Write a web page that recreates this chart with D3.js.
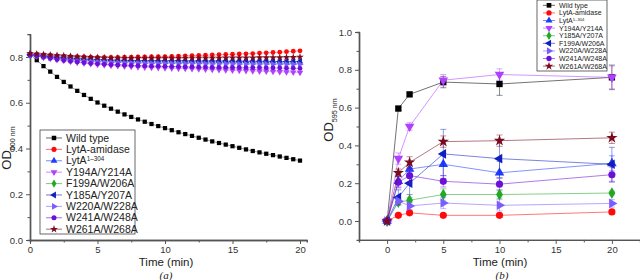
<!DOCTYPE html>
<html>
<head>
<meta charset="utf-8">
<script src="https://cdn.jsdelivr.net/npm/d3@7"></script>
<style>
  body { margin: 0; background: #fff; }
  svg text { font-family: "Liberation Sans", Arial, sans-serif; }
</style>
</head>
<body>
<svg id="chart" width="640" height="280"></svg>
<script>
// ---- panel (a): lysis curves, one point every 0.5 min
const timeA = [0,0.5,1,1.5,2,2.5,3,3.5,4,4.5,5,5.5,6,6.5,7,7.5,8,8.5,9,9.5,10,
  10.5,11,11.5,12,12.5,13,13.5,14,14.5,15,15.5,16,16.5,17,17.5,18,18.5,19,19.5,20];

const wildA = [0.812,0.786,0.760,0.736,0.713,0.691,0.671,0.652,0.634,0.617,0.601,0.587,0.574,0.561,0.549,0.538,0.527,0.517,0.507,0.498,0.489,
  0.480,0.471,0.463,0.455,0.447,0.439,0.431,0.424,0.417,0.410,0.403,0.396,0.389,0.383,0.377,0.371,0.365,0.359,0.353,0.347];
const amidaseA = [0.812,0.811,0.809,0.807,0.805,0.803,0.802,0.801,0.800,0.799,0.798,0.798,0.798,0.798,0.799,0.799,0.800,0.800,0.801,0.801,0.802,
  0.803,0.804,0.805,0.806,0.807,0.808,0.809,0.810,0.811,0.812,0.813,0.814,0.815,0.817,0.818,0.820,0.821,0.823,0.825,0.827];
const lyta304A = [0.812,0.810,0.807,0.804,0.801,0.799,0.797,0.795,0.793,0.791,0.790,0.789,0.788,0.787,0.786,0.786,0.785,0.785,0.785,0.784,0.784,
  0.784,0.784,0.783,0.783,0.783,0.783,0.783,0.782,0.782,0.782,0.782,0.782,0.781,0.781,0.781,0.781,0.780,0.780,0.780,0.780];
const y194A = [0.808,0.803,0.798,0.793,0.788,0.784,0.780,0.776,0.773,0.770,0.767,0.765,0.763,0.761,0.759,0.758,0.756,0.755,0.754,0.753,0.752,
  0.751,0.750,0.749,0.748,0.747,0.746,0.745,0.744,0.743,0.742,0.741,0.740,0.739,0.738,0.737,0.736,0.735,0.734,0.733,0.732];
const f199A = [0.810,0.807,0.803,0.799,0.796,0.793,0.790,0.788,0.786,0.784,0.783,0.782,0.781,0.780,0.779,0.779,0.778,0.778,0.777,0.777,0.777,
  0.776,0.776,0.776,0.776,0.775,0.775,0.775,0.775,0.775,0.775,0.774,0.774,0.774,0.774,0.774,0.774,0.773,0.773,0.773,0.773];
const y185A = [0.810,0.808,0.805,0.802,0.799,0.797,0.795,0.793,0.791,0.790,0.789,0.788,0.787,0.786,0.785,0.785,0.784,0.784,0.784,0.783,0.783,
  0.783,0.783,0.783,0.782,0.782,0.782,0.782,0.782,0.782,0.781,0.781,0.781,0.781,0.781,0.781,0.780,0.780,0.780,0.780,0.780];
const w220A = [0.808,0.805,0.801,0.797,0.793,0.790,0.787,0.785,0.783,0.781,0.779,0.778,0.777,0.776,0.775,0.774,0.774,0.773,0.773,0.772,0.772,
  0.772,0.771,0.771,0.771,0.771,0.770,0.770,0.770,0.770,0.770,0.769,0.769,0.769,0.769,0.769,0.768,0.768,0.768,0.768,0.768];
const w241A = [0.808,0.804,0.799,0.794,0.789,0.785,0.781,0.778,0.775,0.772,0.770,0.768,0.766,0.765,0.764,0.763,0.762,0.761,0.760,0.760,0.759,
  0.758,0.758,0.757,0.757,0.756,0.756,0.755,0.755,0.755,0.754,0.754,0.753,0.753,0.753,0.752,0.752,0.752,0.751,0.751,0.750];
const w261A = [0.815,0.813,0.811,0.809,0.807,0.805,0.803,0.801,0.800,0.799,0.798,0.797,0.796,0.796,0.795,0.795,0.795,0.795,0.795,0.795,0.795,
  0.795,0.795,0.795,0.796,0.796,0.796,0.796,0.796,0.797,0.797,0.797,0.797,0.797,0.798,0.798,0.798,0.798,0.799,0.799,0.800];

// ---- panel (b): OD595 with error bars
const timeB = [0, 1, 2, 5, 10, 20];
const wildB    = [0, 0.595, 0.670, 0.735, 0.725, 0.760];
const wildErr  = [0, 0.010, 0.010, 0.030, 0.060, 0.065];
const amidB    = [0, 0.030, 0.043, 0.030, 0.030, 0.048];
const amidErr  = [0, 0.008, 0.008, 0.008, 0.010, 0.010];
const lytaB    = [0, 0.210, 0.275, 0.300, 0.255, 0.305];
const lytaErr  = [0, 0.030, 0.040, 0.060, 0.060, 0.040];
const y194B    = [0, 0.330, 0.500, 0.745, 0.775, 0.760];
const y194Err  = [0, 0.030, 0.020, 0.030, 0.030, 0.060];
const y185B    = [0, 0.100, 0.110, 0.140, 0.140, 0.148];
const y185Err  = [0, 0.015, 0.015, 0.030, 0.020, 0.010];
const f199B    = [0, 0.125, 0.200, 0.355, 0.330, 0.300];
const f199Err  = [0, 0.040, 0.060, 0.130, 0.100, 0.090];
const w220B    = [0, 0.105, 0.080, 0.095, 0.083, 0.093];
const w220Err  = [0, 0.010, 0.020, 0.030, 0.030, 0.020];
const w241B    = [0, 0.205, 0.240, 0.210, 0.195, 0.245];
const w241Err  = [0, 0.030, 0.040, 0.030, 0.030, 0.040];
const w261B    = [0, 0.255, 0.310, 0.420, 0.425, 0.440];
const w261Err  = [0, 0.020, 0.030, 0.030, 0.030, 0.030];

const ticksAY = [0, 0.2, 0.4, 0.6, 0.8];
const ticksAX = [0, 5, 10, 15, 20];
const ticksBY = [0, 0.2, 0.4, 0.6, 0.8, 1.0];
const ticksBX = [0, 5, 10, 15, 20];

// marker style per series key
const styles = {
  wild:  { color: "#000000", sym: d3.symbolSquare,   rot: 0 },
  amid:  { color: "#ff0a0a", sym: d3.symbolCircle,   rot: 0 },
  lyta:  { color: "#1f3cff", sym: d3.symbolTriangle, rot: 0 },
  y194:  { color: "#b040ff", sym: d3.symbolTriangle, rot: 180 },
  green: { color: "#22a822", sym: d3.symbolDiamond,  rot: 0 },
  navy:  { color: "#1020c0", sym: d3.symbolTriangle, rot: -90 },
  w220:  { color: "#7a5cff", sym: d3.symbolTriangle, rot: 90 },
  w241:  { color: "#6a10d8", sym: d3.symbolCircle,   rot: 0 },
  w261:  { color: "#7a0a1e", sym: d3.symbolStar,     rot: 0 }
};

const seriesA = [
  { key: "wild",  label: "Wild type",    values: wildA },
  { key: "amid",  label: "LytA-amidase", values: amidaseA },
  { key: "lyta",  label: "LytA", sup: "1\u2013304", values: lyta304A },
  { key: "y194",  label: "Y194A/Y214A",  values: y194A },
  { key: "green", label: "F199A/W206A",  values: f199A },
  { key: "navy",  label: "Y185A/Y207A",  values: y185A },
  { key: "w220",  label: "W220A/W228A",  values: w220A },
  { key: "w241",  label: "W241A/W248A",  values: w241A },
  { key: "w261",  label: "W261A/W268A",  values: w261A }
];

const seriesB = [
  { key: "wild",  label: "Wild type",    values: wildB, err: wildErr },
  { key: "amid",  label: "LytA-amidase", values: amidB, err: amidErr },
  { key: "lyta",  label: "LytA", sup: "1\u2013304", values: lytaB, err: lytaErr },
  { key: "y194",  label: "Y194A/Y214A",  values: y194B, err: y194Err },
  { key: "green", label: "Y185A/Y207A",  values: y185B, err: y185Err },
  { key: "navy",  label: "F199A/W206A",  values: f199B, err: f199Err },
  { key: "w220",  label: "W220A/W228A",  values: w220B, err: w220Err },
  { key: "w241",  label: "W241A/W248A",  values: w241B, err: w241Err },
  { key: "w261",  label: "W261A/W268A",  values: w261B, err: w261Err }
];

const svg = d3.select("#chart");
const axisColor = "#555";
const textColor = "#333";

function marker(g, key, x, y, size) {
  const s = styles[key];
  g.append("path")
    .attr("d", d3.symbol().type(s.sym).size(size))
    .attr("transform", `translate(${x},${y}) rotate(${s.rot})`)
    .attr("fill", s.color);
}

function styleAxis(g, fs) {
  g.select(".domain").attr("stroke", axisColor).attr("stroke-width", 1.4);
  g.selectAll(".tick line").attr("stroke", axisColor).attr("stroke-width", 1);
  g.selectAll(".tick text").attr("fill", textColor).style("font-size", fs + "px");
}

function drawAxes(x, y, xt, yt, fs) {
  const [x0] = x.range();
  const [y0] = y.range();
  // minor ticks
  const xMin = d3.axisBottom(x).tickValues(xt.map(v => v + 2.5).filter(v => v < x.domain()[1]))
    .tickSize(2.5).tickFormat("");
  const yMin = d3.axisLeft(y).tickValues(yt.map(v => v + 0.1).filter(v => v < y.domain()[1] + 1e-9))
    .tickSize(2.5).tickFormat("");
  svg.append("g").attr("transform", `translate(0,${y0})`).call(xMin).call(g => styleAxis(g, fs));
  svg.append("g").attr("transform", `translate(${x0},0)`).call(yMin).call(g => styleAxis(g, fs));
  svg.append("g").attr("transform", `translate(0,${y0})`)
    .call(d3.axisBottom(x).tickValues(xt).tickSize(4).tickPadding(2).tickSizeOuter(0).tickFormat(d3.format("d")))
    .call(g => styleAxis(g, fs));
  svg.append("g").attr("transform", `translate(${x0},0)`)
    .call(d3.axisLeft(y).tickValues(yt).tickSize(4).tickPadding(3).tickSizeOuter(0).tickFormat(d3.format(".1f")))
    .call(g => styleAxis(g, fs));
}

function yLabel(x, y, sub, fs) {
  const t = svg.append("text")
    .attr("transform", `translate(${x},${y}) rotate(-90)`)
    .attr("text-anchor", "middle")
    .attr("fill", "#222")
    .style("font-size", fs + "px");
  t.append("tspan").text("OD");
  t.append("tspan").attr("baseline-shift", "sub").style("font-size", (fs * 0.55) + "px").text(sub);
}

function legend(series, x0, y0, w, h, step, fs, lineLen, msize) {
  const g = svg.append("g");
  g.append("rect").attr("x", x0).attr("y", y0).attr("width", w).attr("height", h)
    .attr("fill", "#fff").attr("stroke", "#444").attr("stroke-width", 0.8);
  series.forEach((s, i) => {
    const yy = y0 + step * (i + 0.7);
    const c = styles[s.key].color;
    g.append("line").attr("x1", x0 + 6).attr("x2", x0 + 6 + lineLen)
      .attr("y1", yy).attr("y2", yy).attr("stroke", c).attr("stroke-opacity", 0.6).attr("stroke-width", 1);
    marker(g, s.key, x0 + 6 + lineLen / 2, yy, msize);
    const t = g.append("text").attr("x", x0 + 10 + lineLen).attr("y", yy)
      .attr("dy", "0.35em").attr("fill", "#222").style("font-size", fs + "px").text(s.label);
    if (s.sup) t.append("tspan").attr("baseline-shift", "super").style("font-size", (fs * 0.6) + "px").text(s.sup);
  });
}

// ---------------- panel (a)
const xA = d3.scaleLinear().domain([0, 20.5]).range([30, 306.75]);
const yA = d3.scaleLinear().domain([0, 0.9]).range([240, 34.1]);

drawAxes(xA, yA, ticksAX, ticksAY, 9.5);

const lineA = d3.line().x((d, i) => xA(timeA[i])).y(d => yA(d));
seriesA.forEach(s => {
  const g = svg.append("g");
  g.append("path").attr("d", lineA(s.values)).attr("fill", "none")
    .attr("stroke", styles[s.key].color).attr("stroke-opacity", 0.5).attr("stroke-width", 0.8);
  s.values.forEach((v, i) => marker(g, s.key, xA(timeA[i]), yA(v), 18));
});

legend(seriesA, 40, 130, 95, 104, 11.4, 10.5, 16, 20);
yLabel(11, 148, "600 nm", 13);
svg.append("text").attr("x", 166).attr("y", 266).attr("text-anchor", "middle")
  .attr("fill", "#222").style("font-size", "11.5px").text("Time (min)");
svg.append("text").attr("x", 166).attr("y", 279).attr("text-anchor", "middle")
  .attr("fill", "#222").style("font-size", "11px").style("font-family", "Liberation Serif, serif")
  .style("font-style", "italic").text("(a)");

// ---------------- panel (b)
const xB = d3.scaleLinear().domain([-2.5, 22.5]).range([359, 640]);
const yB = d3.scaleLinear().domain([-0.1, 1.0]).range([239.9, 32]);

drawAxes(xB, yB, ticksBX, ticksBY, 9.5);

const lineB = d3.line().x((d, i) => xB(timeB[i])).y(d => yB(d));
seriesB.forEach(s => {
  const g = svg.append("g");
  const c = styles[s.key].color;
  s.values.forEach((v, i) => {
    const e = s.err[i];
    if (!e) return;
    const x = xB(timeB[i]);
    g.append("line").attr("x1", x).attr("x2", x).attr("y1", yB(v - e)).attr("y2", yB(v + e))
      .attr("stroke", c).attr("stroke-opacity", 0.45).attr("stroke-width", 1);
    [v - e, v + e].forEach(ev => g.append("line").attr("x1", x - 3).attr("x2", x + 3)
      .attr("y1", yB(ev)).attr("y2", yB(ev)).attr("stroke", c).attr("stroke-opacity", 0.45).attr("stroke-width", 1));
  });
  g.append("path").attr("d", lineB(s.values)).attr("fill", "none")
    .attr("stroke", c).attr("stroke-opacity", 0.55).attr("stroke-width", 1);
  s.values.forEach((v, i) => marker(g, s.key, xB(timeB[i]), yB(v), 40));
});

legend(seriesB, 537, 0, 70, 71, 7.6, 7, 12, 22);
yLabel(333, 120, "595 nm", 13);
svg.append("text").attr("x", 500).attr("y", 266).attr("text-anchor", "middle")
  .attr("fill", "#222").style("font-size", "11.5px").text("Time (min)");
svg.append("text").attr("x", 502).attr("y", 279).attr("text-anchor", "middle")
  .attr("fill", "#222").style("font-size", "11px").style("font-family", "Liberation Serif, serif")
  .style("font-style", "italic").text("(b)");
</script>
</body>
</html>
